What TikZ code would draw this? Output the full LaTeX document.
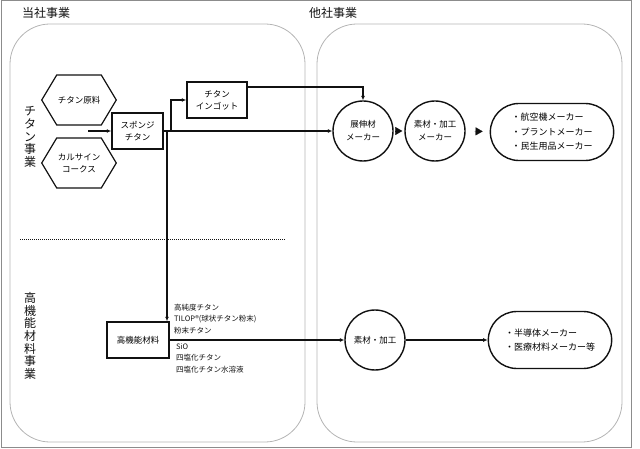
\documentclass[tikz,border=0pt]{standalone}
\usepackage{fontspec}
\setmainfont{Noto Sans CJK JP}
\usetikzlibrary{positioning,arrows.meta,calc,shapes.symbols,shapes.misc}
\definecolor{ink}{HTML}{111111}
\definecolor{frame}{HTML}{8C8C8C}
\definecolor{pane}{HTML}{B4B4B4}
\tikzset{
  area/.style={draw=pane, line width=0.8pt, rounded corners=40pt},
  hexa/.style={signal, signal to=west and east, signal pointer angle=118, draw=ink,
    line width=1.2pt, minimum width=70pt, minimum height=50pt, align=center, inner sep=1pt,
    font=\fontsize{8.5pt}{12pt}\selectfont},
  box/.style={draw=ink, line width=1.5pt, align=center, inner sep=2pt,
    font=\fontsize{8.5pt}{12pt}\selectfont},
  circ/.style={circle, draw=ink, line width=1.4pt, minimum size=60pt, inner sep=0pt,
    align=center, font=\fontsize{8.5pt}{13pt}\selectfont},
  stad/.style={rounded rectangle, draw=ink, line width=1.4pt, minimum width=130pt,
    minimum height=57pt, align=left, font=\fontsize{9pt}{14.5pt}\selectfont},
  arr/.style={-{Latex[length=4.5pt,width=4pt]}, line width=1.3pt, color=ink},
  tri/.style={-{Triangle[length=7pt,width=8pt]}, line width=0.2pt, color=ink},
  head/.style={font=\fontsize{12pt}{14pt}\selectfont, text=ink},
  vert/.style={font=\fontsize{12pt}{12.6pt}\selectfont, align=center, text=ink},
  lab/.style={font=\fontsize{7.5pt}{11.5pt}\selectfont, align=left, inner sep=0pt, text=ink},
}
\begin{document}
\begin{tikzpicture}[x=1pt, y=-1pt]
    \useasboundingbox (0,0) rectangle (640,449);
    \draw[frame, line width=1pt] (1,1) rectangle (631,447);
    \draw[area] (10,24) rectangle (305,442);
    \draw[area] (317,24) rectangle (622,442);
    \node[head] (own) at (46,13) {当社事業};
    \node[head] (oth) at (333,13) {他社事業};
    \node[vert] (ti) at (30,137) {チ\\タ\\ン\\事\\業};
    \node[vert] (fm) at (30,336) {高\\機\\能\\材\\料\\事\\業};
    \draw[ink, line width=1pt, dash pattern=on 1pt off 1pt] (20,240) -- (285,240);
    % titanium
    \node[hexa] (raw) at (79,100) {チタン原料};
    \node[hexa] (coke) at (79,163) {カルサイン\\コークス};
    \node[box, minimum width=51pt, minimum height=36pt] (sp) at (137.5,131) {スポンジ\\チタン};
    \node[box, minimum width=60pt, minimum height=36pt] (ing) at (217,100) {チタン\\インゴット};
    \node[circ] (c1) at (363,131) {展伸材\\メーカー};
    \node[circ] (c2) at (435,131) {素材・加工\\メーカー};
    \node[stad] (s1) at (552,132) {・航空機メーカー\\・プラントメーカー\\・民生用品メーカー};
    \coordinate (in) at (88,131);
    \coordinate (jd) at (167,131);
    \coordinate (ju) at (171,131);
    \draw[arr] (in) -- (sp);
    \draw[arr] (sp) -- (c1);
    \draw[arr] (ju) |- (ing.west);
    \draw[arr] ([yshift=13pt]ing.east) -| (c1.north);
    \draw[tri, shorten <=4pt, shorten >=2pt] (c1) -- (c2);
    \draw[tri, shorten <=9pt, shorten >=7pt] (c2) -- (s1);
    % functional materials
    \node[box, minimum width=62pt, minimum height=36pt] (hm) at (138,340) {高機能材料};
    \node[circ] (c3) at (375,340) {素材・加工};
    \node[stad] (s2) at (550,340) {・半導体メーカー\\・医療材料メーカー等};
    \draw[arr] (jd) -- (jd |- hm.north);
    \draw[arr] (hm) -- (c3);
    \draw[arr] (c3) -- (s2);
    \node[lab, anchor=south west] (up) at (174,334) {高純度チタン\\TILOP®(球状チタン粉末)\\粉末チタン};
    \node[lab, anchor=north west] (dn) at (176,343) {SiO\\四塩化チタン\\四塩化チタン水溶液};
\end{tikzpicture}
\end{document}
